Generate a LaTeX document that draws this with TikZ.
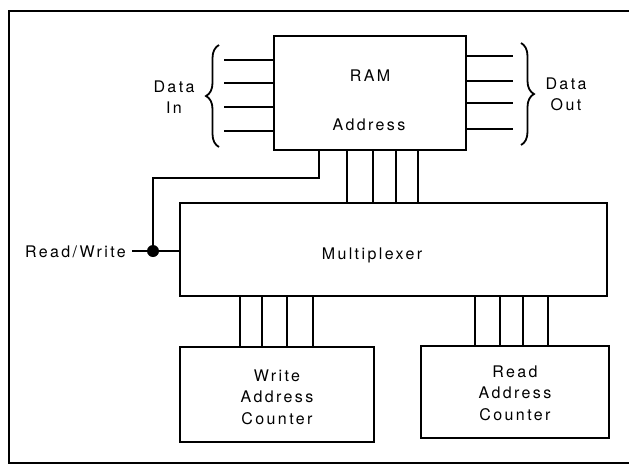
\documentclass[tikz,border=0pt]{standalone}
\usepackage{fontspec}
\setmainfont{TeX Gyre Heros}[LetterSpace=15]
\usetikzlibrary{decorations.pathreplacing}

\begin{document}
\begin{tikzpicture}[x=1pt,y=-1pt,
    wire/.style={line width=1.8pt},
    block/.style={draw, line width=1.8pt, inner sep=0pt},
    frameline/.style={line width=2.4pt},
    lbl/.style={inner sep=0pt, anchor=base, font=\fontsize{16}{21.5}\selectfont},
    bracket/.style={line width=1.8pt, decorate}]
  \useasboundingbox (0,0) rectangle (629,467);

  % outer frame, open on the right
  \draw[frameline] (629,11) -| (9,463) -- (629,463);

  % blocks
  \node[block, minimum width=192pt, minimum height=114pt] (ram) at (370,93) {};
  \node[block, minimum width=427pt, minimum height=93pt] (mux) at (393.5,249.5) {};
  \node[block, minimum width=194pt, minimum height=95pt] (wac) at (277,394.5) {};
  \node[block, minimum width=188pt, minimum height=92pt] (rac) at (515,392) {};

  % block texts
  \node[lbl] (ramtxt) at (370,81) {RAM};
  \node[lbl] (addrtxt) at (369,130) {Address};
  \node[lbl] (muxtxt) at (372,259) {Multiplexer};
  \node[lbl] (wactxt) at (277,381) {\begin{tabular}[t]{@{}c@{}}Write\\Address\\Counter\end{tabular}};
  \node[lbl] (ractxt) at (515,377) {\begin{tabular}[t]{@{}c@{}}Read\\Address\\Counter\end{tabular}};

  % data in / data out lines
  \foreach \y in {60,83,107,131}
    \draw[wire] (ram.west |- 0,\y) -- ++(-49,0);
  \foreach \y in {56,81,103,129}
    \draw[wire] (ram.east |- 0,\y) -- ++(46,0);

  % braces and their labels
  \coordinate (inlo) at (219,147);
  \coordinate (inhi) at (219,45);
  \coordinate (outhi) at (521,43);
  \coordinate (outlo) at (521,145);
  \draw[bracket, decoration={brace, amplitude=13pt}] (inlo) -- (inhi);
  \draw[bracket, decoration={brace, amplitude=13pt}] (outhi) -- (outlo);
  \node[lbl] (datain) at (174,92) {\begin{tabular}[t]{@{}c@{}}Data\\In\end{tabular}};
  \node[lbl] (dataout) at (566,89) {\begin{tabular}[t]{@{}c@{}}Data\\Out\end{tabular}};

  % address bus RAM <- multiplexer
  \foreach \x in {347,373,396,418}
    \draw[wire] (ram.south -| \x,0) -- (mux.north -| \x,0);
  % counter buses
  \foreach \x in {240,262,287,313}
    \draw[wire] (mux.south -| \x,0) -- (wac.north -| \x,0);
  \foreach \x in {475,500,523,548}
    \draw[wire] (mux.south -| \x,0) -- (rac.north -| \x,0);

  % read/write control
  \node[circle, fill, inner sep=0pt, minimum size=12pt] (dot) at (153,251) {};
  \node[lbl, anchor=base east, inner xsep=6pt] (rw) at (132,257) {Read/Write};
  \coordinate (tap) at (319,178);
  \draw[wire] (ram.south -| tap) -- (tap) -| (dot);
  \draw[wire] (rw.east |- dot) -- (dot) -- (mux.west |- dot);
\end{tikzpicture}
\end{document}
